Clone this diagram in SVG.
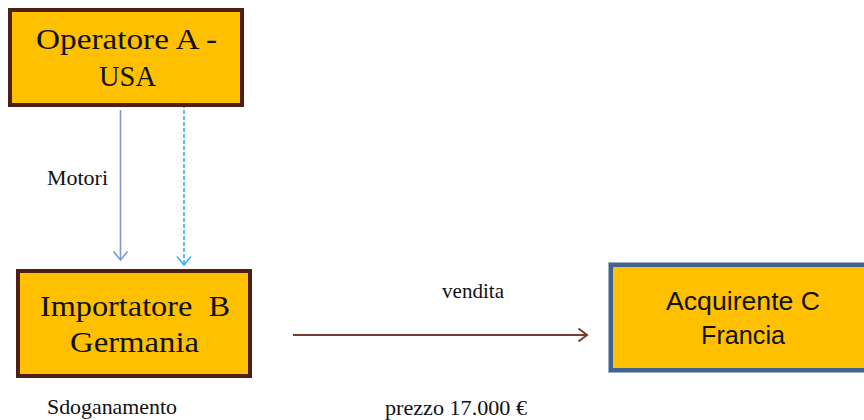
<svg xmlns="http://www.w3.org/2000/svg" width="864" height="420" viewBox="0 0 864 420">
  <style>
    .box-brown { fill: #FFC000; stroke: #4F2012; stroke-width: 4; }
    .box-blue { fill: #FFC000; stroke: #41648F; stroke-width: 4; }
    .serif { font-family: "Liberation Serif", "Times New Roman", serif; fill: #111; }
    .sans { font-family: "Liberation Sans", Arial, sans-serif; fill: #111; }
    .node-text { font-size: 30px; text-anchor: middle; }
    .node-sans { font-size: 25px; text-anchor: middle; }
    .label { font-size: 21.5px; }
  </style>
  <defs>
    <marker id="head-blue" markerUnits="userSpaceOnUse" markerWidth="20" markerHeight="20" refX="10" refY="10" orient="auto" viewBox="0 0 20 20">
      <path d="M1.5 3 L10 10 L1.5 17" fill="none" stroke="#7E9ACB" stroke-width="1.6"/>
    </marker>
    <marker id="head-cyan" markerUnits="userSpaceOnUse" markerWidth="20" markerHeight="20" refX="10" refY="10" orient="auto" viewBox="0 0 20 20">
      <path d="M1.5 3 L10 10 L1.5 17" fill="none" stroke="#33B2F0" stroke-width="1.6"/>
    </marker>
    <marker id="head-brown" markerUnits="userSpaceOnUse" markerWidth="20" markerHeight="20" refX="10" refY="10" orient="auto" viewBox="0 0 20 20">
      <path d="M1.5 3.5 L10 10 L1.5 16.5" fill="none" stroke="#7A3C32" stroke-width="2"/>
    </marker>
  </defs>

  <rect width="864" height="420" fill="#FFFFFF"/>

  <!-- connectors -->
  <g id="connectors">
    <line x1="120.5" y1="110" x2="120.5" y2="260" stroke="#7E9ACB" stroke-width="1.6" marker-end="url(#head-blue)"/>
    <line x1="184" y1="104" x2="184" y2="265" stroke="#33B2F0" stroke-width="1.6" stroke-dasharray="4 2" marker-end="url(#head-cyan)"/>
    <line x1="293" y1="335" x2="587" y2="335" stroke="#7A3C32" stroke-width="2" marker-end="url(#head-brown)"/>
  </g>

  <!-- nodes -->
  <g id="node-operatore-a">
    <rect class="box-brown" x="10" y="10" width="232" height="95"/>
    <text class="serif node-text" x="126.5" y="49" textLength="181" lengthAdjust="spacingAndGlyphs">Operatore A -</text>
    <text class="serif node-text" x="127.5" y="86" textLength="57" lengthAdjust="spacingAndGlyphs">USA</text>
  </g>

  <g id="node-importatore-b">
    <rect class="box-brown" x="18" y="271" width="232" height="105"/>
    <text class="serif node-text" x="135" y="316" textLength="190" lengthAdjust="spacingAndGlyphs" xml:space="preserve">Importatore  B</text>
    <text class="serif node-text" x="134.5" y="352" textLength="129" lengthAdjust="spacingAndGlyphs">Germania</text>
  </g>

  <g id="node-acquirente-c">
    <rect x="608.5" y="262.5" width="262" height="110" fill="none" stroke="#9DB0C8" stroke-width="1"/>
    <rect class="box-blue" x="611" y="265" width="262" height="105"/>
    <text class="sans node-sans" x="743" y="310" textLength="154" lengthAdjust="spacingAndGlyphs">Acquirente C</text>
    <text class="sans node-sans" x="743" y="344" textLength="84" lengthAdjust="spacingAndGlyphs">Francia</text>
  </g>

  <!-- labels -->
  <g id="labels">
    <text class="serif label" x="47" y="185" textLength="61" lengthAdjust="spacingAndGlyphs">Motori</text>
    <text class="serif label" x="442" y="298" textLength="62" lengthAdjust="spacingAndGlyphs">vendita</text>
    <text class="serif label" x="47" y="414" textLength="130" lengthAdjust="spacingAndGlyphs">Sdoganamento</text>
    <text class="serif label" x="385" y="415" textLength="142" lengthAdjust="spacingAndGlyphs">prezzo 17.000 €</text>
  </g>
</svg>
